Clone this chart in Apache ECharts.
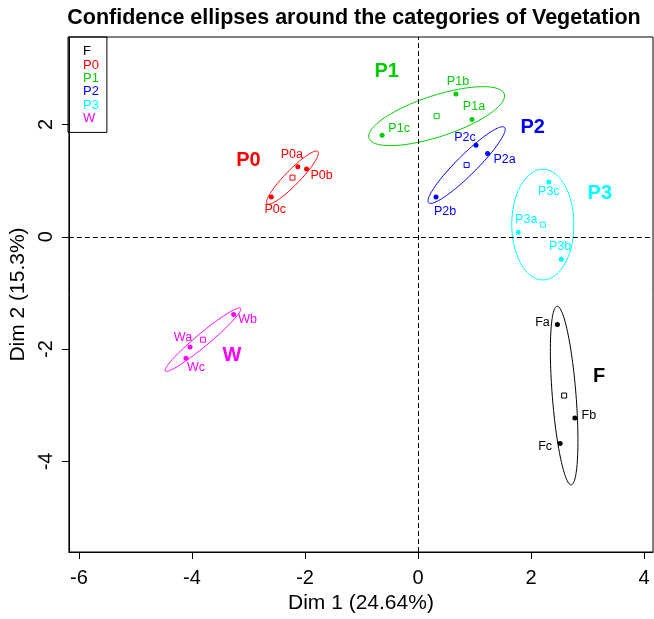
<!DOCTYPE html>
<html>
<head>
<meta charset="utf-8">
<script src="https://cdn.jsdelivr.net/npm/echarts@6/dist/echarts.min.js"></script>
<style>
  html, body { margin: 0; padding: 0; background: #fff; }
  #chart { width: 654px; height: 619px; }
</style>
</head>
<body>
<div id="chart"></div>
<script>
// categories of Vegetation
const groups = ['F', 'P0', 'P1', 'P2', 'P3', 'W'];
const groupColors = ['#000000', '#FF0000', '#00CD00', '#0000FF', '#00FFFF', '#FF00FF'];

// individuals, coordinates on Dim 1 / Dim 2
const indNames = ['Fa', 'Fb', 'Fc', 'P0a', 'P0b', 'P0c', 'P1a', 'P1b', 'P1c',
  'P2a', 'P2b', 'P2c', 'P3a', 'P3b', 'P3c', 'Wa', 'Wb', 'Wc'];
const indGroup = [0, 0, 0, 1, 1, 1, 2, 2, 2, 3, 3, 3, 4, 4, 4, 5, 5, 5];
const indDim1 = [2.466, 2.774, 2.514, -2.127, -1.973, -2.597, 0.954, 0.671, -0.636,
  1.230, 0.318, 1.025, 1.772, 2.532, 2.314, -4.035, -3.263, -4.106];
const indDim2 = [-1.562, -3.228, -3.682, 1.247, 1.207, 0.707, 2.090, 2.544, 1.807,
  1.484, 0.707, 1.631, 0.081, -0.401, 0.977, -1.961, -1.385, -2.163];

// category centres
const catDim1 = [2.585, -2.222, 0.329, 0.859, 2.208, -3.806];
const catDim2 = [-2.827, 1.053, 2.148, 1.277, 0.217, -1.832];

// confidence ellipses : semi axes (axis units) and tilt in degrees
const ellA = [1.595, 0.647, 1.259, 0.949, 0.986, 0.869];
const ellB = [0.21, 0.13, 0.366, 0.177, 0.55, 0.115];
const ellAngle = [94.5, 46, 18.2, 45, 90, 40];

const xTicks = [-6, -4, -2, 0, 2, 4];
const yTicks = [-4, -2, 0, 2];

// label placement (pixels from the point)
const indLabelOffset = {
  Fa: [-15, -2], Fb: [14, -3], Fc: [-15, 3],
  P0a: [-6, -12], P0b: [15, 7], P0c: [4, 12],
  P1a: [2, -13], P1b: [2, -12], P1c: [17, -7],
  P2a: [17, 6], P2b: [9, 14], P2c: [-11, -8],
  P3a: [8, -13], P3b: [-1, -13], P3c: [0, 10],
  Wa: [-7, -9], Wb: [14, 5], Wc: [10, 9]
};
const catLabelOffset = [[35, -19], [-44, -17.5], [-50, -45], [66, -38], [57, -31], [29, 16]];

const font = 'Liberation Sans, Arial, Helvetica, sans-serif';

const chart = echarts.init(document.getElementById('chart'));

const ellipseSeries = {
  name: 'ellipses',
  type: 'custom',
  silent: true,
  z: 2,
  data: groups.map((g, i) => [catDim1[i], catDim2[i], ellA[i], ellB[i], ellAngle[i]]),
  renderItem: (params, api) => {
    const cx = api.value(0), cy = api.value(1);
    const a = api.value(2), b = api.value(3);
    const th = api.value(4) * Math.PI / 180;
    const pts = [];
    for (let k = 0; k < 120; k++) {
      const t = k / 120 * Math.PI * 2;
      const u = a * Math.cos(t), v = b * Math.sin(t);
      pts.push(api.coord([cx + u * Math.cos(th) - v * Math.sin(th),
        cy + u * Math.sin(th) + v * Math.cos(th)]));
    }
    return {
      type: 'polygon',
      shape: {points: pts},
      style: {fill: 'none', stroke: groupColors[params.dataIndex], lineWidth: 1}
    };
  }
};

const pointSeries = groups.map((g, gi) => ({
  name: g,
  type: 'scatter',
  z: 3,
  symbol: 'circle',
  symbolSize: 5,
  itemStyle: {color: groupColors[gi], opacity: 1},
  label: {
    show: true,
    position: 'inside',
    formatter: '{b}',
    color: groupColors[gi],
    opacity: 1,
    textBorderWidth: 0,
    textBorderColor: 'transparent',
    fontFamily: font,
    fontSize: 12.5
  },
  data: indNames
    .map((n, i) => ({n, i}))
    .filter(d => indGroup[d.i] === gi)
    .map(d => ({
      name: d.n,
      value: [indDim1[d.i], indDim2[d.i]],
      label: {offset: indLabelOffset[d.n]}
    }))
}));

const centreSeries = {
  name: 'centres',
  type: 'scatter',
  z: 3,
  symbol: 'rect',
  symbolSize: 5,
  itemStyle: {opacity: 1},
  data: groups.map((g, i) => ({
    name: g,
    value: [catDim1[i], catDim2[i]],
    itemStyle: {color: '#fff', borderColor: groupColors[i], borderWidth: 1, opacity: 1},
    label: {
      show: true,
      position: 'inside',
      formatter: '{b}',
      offset: catLabelOffset[i],
      color: groupColors[i],
      opacity: 1,
      textBorderWidth: 0,
      textBorderColor: 'transparent',
      fontFamily: font,
      fontWeight: 'bold',
      fontSize: 20
    }
  })),
  markLine: {
    silent: true,
    symbol: 'none',
    label: {show: false},
    lineStyle: {color: '#000', width: 1, type: [5, 3], opacity: 1},
    data: [{xAxis: 0}, {yAxis: 0}]
  }
};

const option = {
  animation: false,
  backgroundColor: '#fff',
  textStyle: {fontFamily: font},
  title: {
    text: 'Confidence ellipses around the categories of Vegetation',
    left: 354,
    top: 7,
    padding: 0,
    textAlign: 'center',
    textStyle: {fontFamily: font, fontWeight: 'bold', fontSize: 21.5, color: '#000'}
  },
  legend: {
    orient: 'vertical',
    left: 68,
    top: 37,
    padding: [8, 8, 7, 10],
    itemWidth: 0,
    itemHeight: 8,
    itemGap: 0,
    icon: 'none',
    borderColor: '#000',
    borderWidth: 1,
    selectedMode: false,
    textStyle: {fontFamily: font, fontSize: 13, lineHeight: 13.4},
    data: groups.map((g, i) => ({name: g, textStyle: {color: groupColors[i]}}))
  },
  grid: {
    left: 68,
    right: 1,
    top: 37,
    bottom: 63,
    show: true,
    borderColor: '#000',
    borderWidth: 1
  },
  xAxis: {
    type: 'value',
    min: -6.178,
    max: 4.157,
    name: 'Dim 1 (24.64%)',
    nameLocation: 'middle',
    nameGap: 41,
    nameTextStyle: {fontFamily: font, fontSize: 21, color: '#000'},
    axisLine: {show: true, onZero: false, lineStyle: {color: '#000'}},
    axisTick: {show: true, length: 7, customValues: xTicks, lineStyle: {color: '#000'}},
    axisLabel: {customValues: xTicks, margin: 16, fontFamily: font, fontSize: 20, color: '#000'},
    splitLine: {show: false}
  },
  yAxis: {
    type: 'value',
    min: -5.613,
    max: 3.557,
    name: 'Dim 2 (15.3%)',
    nameLocation: 'middle',
    nameRotate: 90,
    nameGap: 38,
    nameTextStyle: {fontFamily: font, fontSize: 21, color: '#000'},
    axisLine: {show: true, onZero: false, lineStyle: {color: '#000'}},
    axisTick: {show: true, length: 7, customValues: yTicks, lineStyle: {color: '#000'}},
    axisLabel: {customValues: yTicks, rotate: 90, margin: 12, fontFamily: font, fontSize: 20, color: '#000'},
    splitLine: {show: false}
  },
  series: [ellipseSeries, ...pointSeries, centreSeries]
};

chart.setOption(option);
</script>
</body>
</html>
